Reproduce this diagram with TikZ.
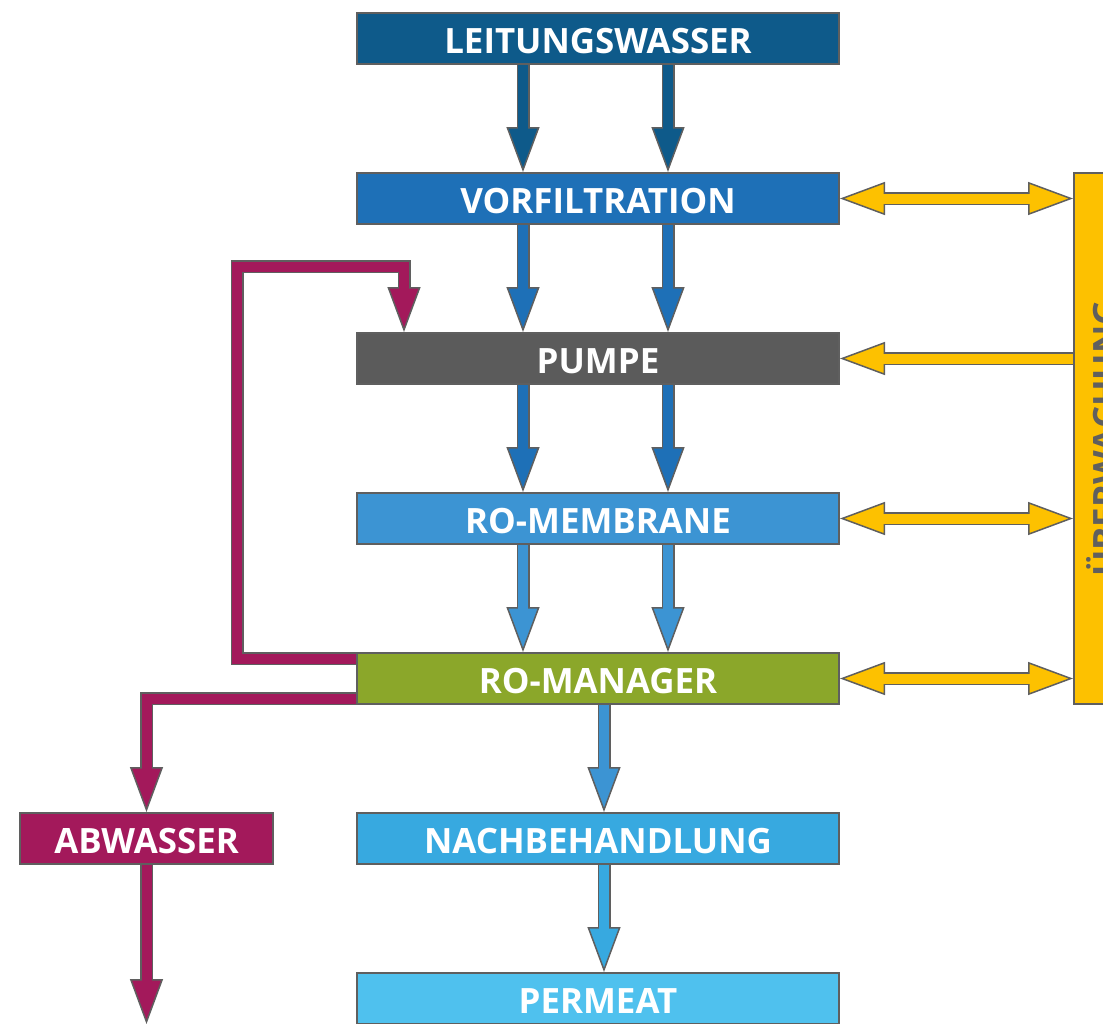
\documentclass[tikz,border=0pt]{standalone}
\usepackage{fontspec}
\setmainfont{Open Sans}
\usetikzlibrary{arrows.meta}

\definecolor{edge}{HTML}{5F5F5F}
\definecolor{tap}{HTML}{0E5A8A}
\definecolor{prefilter}{HTML}{1E70B7}
\definecolor{pumpgray}{HTML}{5B5B5B}
\definecolor{membrane}{HTML}{3C94D3}
\definecolor{manager}{HTML}{8BA72A}
\definecolor{post}{HTML}{37A9E0}
\definecolor{permeate}{HTML}{4FC1EE}
\definecolor{waste}{HTML}{A3195B}
\definecolor{monitor}{HTML}{FDC100}

\tikzset{
	stage/.style={draw=edge, line width=2bp, fill=#1, text=white, inner sep=0pt,
		minimum width=482bp, minimum height=51bp, text height=30bp, text depth=0bp,
		font=\fontsize{35}{40}\selectfont\bfseries},
	flow/.style={draw=edge, line width=13bp, line join=miter,
		-{Triangle[length=45bp,width=33bp,line width=1.5bp,fill=#1]},
		postaction={draw=#1, line width=10bp, -, shorten >=38bp}},
	link/.style={draw=edge, line width=13bp,
		{Triangle[length=45bp,width=33bp,line width=1.5bp,fill=monitor]}-{Triangle[length=45bp,width=33bp,line width=1.5bp,fill=monitor]},
		postaction={draw=monitor, line width=10bp, -, shorten >=38bp, shorten <=38bp}}
}

\begin{document}
\begin{tikzpicture}[x=1bp,y=-1bp]
	\useasboundingbox (0,0) rectangle (1103,1024);
	\clip (0,0) rectangle (1103,1024);

	\node[stage=tap]       (lw)   at (598,38.5)  {LEITUNGSWASSER};
	\node[stage=prefilter] (vf)   at (598,198.5) {VORFILTRATION};
	\node[stage=pumpgray]  (pump) at (598,358.5) {PUMPE};
	\node[stage=membrane]  (rmem) at (598,518.5) {RO-MEMBRANE};
	\node[stage=manager]   (rman) at (598,678.5) {RO-MANAGER};
	\node[stage=post]      (nach) at (598,838.5) {NACHBEHANDLUNG};
	\node[stage=permeate]  (perm) at (598,998.5) {PERMEAT};
	\node[stage=waste, minimum width=253bp] (ab) at (146.5,838.5) {ABWASSER};
	\node[stage=monitor, text=edge, rotate=90, minimum width=531bp, minimum height=58bp] (uw) at (1103,438.5) {ÜBERWACHUNG};

	\coordinate (loop) at (237,266.5);
	\coordinate (drain) at (146.5,1024);

	% main line
	\draw[flow=tap] ([xshift=-75bp]lw.south) -- ([xshift=-75bp]vf.north);
	\draw[flow=tap] ([xshift=70bp]lw.south) -- ([xshift=70bp]vf.north);
	\draw[flow=prefilter] ([xshift=-75bp]vf.south) -- ([xshift=-75bp]pump.north);
	\draw[flow=prefilter] ([xshift=70bp]vf.south) -- ([xshift=70bp]pump.north);
	\draw[flow=prefilter] ([xshift=-75bp]pump.south) -- ([xshift=-75bp]rmem.north);
	\draw[flow=prefilter] ([xshift=70bp]pump.south) -- ([xshift=70bp]rmem.north);
	\draw[flow=membrane] ([xshift=-75bp]rmem.south) -- ([xshift=-75bp]rman.north);
	\draw[flow=membrane] ([xshift=70bp]rmem.south) -- ([xshift=70bp]rman.north);
	\draw[flow=membrane] ([xshift=6bp]rman.south) -- ([xshift=6bp]nach.north);
	\draw[flow=post] ([xshift=6bp]nach.south) -- ([xshift=6bp]perm.north);

	% return and waste
	\draw[flow=waste] ([yshift=20bp]rman.west) -| (loop) -| ([xshift=-194bp]pump.north);
	\draw[flow=waste] ([yshift=-20bp]rman.west) -| (ab.north);
	\draw[flow=waste] (ab.south) -- (drain);

	% monitoring
	\draw[link] (vf.east) -- (vf.east -| uw.north);
	\draw[flow=monitor] (pump.east -| uw.north) -- (pump.east);
	\draw[link] (rmem.east) -- (rmem.east -| uw.north);
	\draw[link] (rman.east) -- (rman.east -| uw.north);
\end{tikzpicture}
\end{document}
